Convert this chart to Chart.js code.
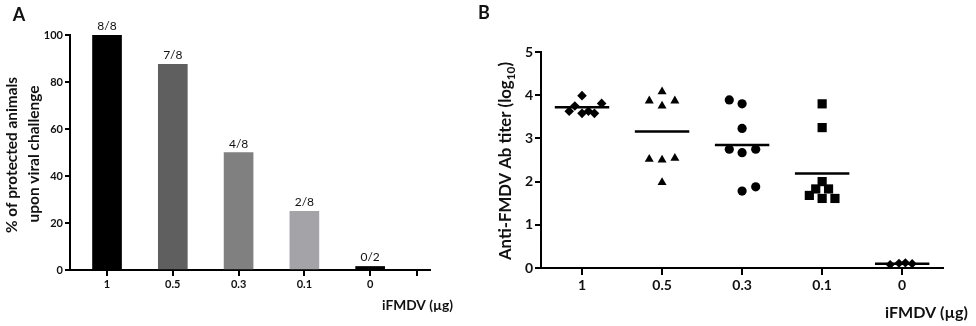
<!DOCTYPE html>
<html>
<head>
<meta charset="utf-8">
<script src="https://cdn.jsdelivr.net/npm/chart.js@4"></script>
<style>
  html,body{margin:0;padding:0;background:#fff;}
  .panel{position:absolute;top:0;height:326px;}
  #wrapA{left:0;width:470px;}
  #wrapB{left:476px;width:500px;}
</style>
</head>
<body>
<div class="panel" id="wrapA"><canvas id="chartA" width="470" height="326"></canvas></div>
<div class="panel" id="wrapB"><canvas id="chartB" width="500" height="326"></canvas></div>
<script>
// ======= Data =======
const doseLabels = ['1', '0.5', '0.3', '0.1', '0'];

// Panel A: % protected animals
const protectedPct = [100, 87.5, 50, 25, 1.5];
const protectedCounts = ['8/8', '7/8', '4/8', '2/8', '0/2'];
const yTicksA = [0, 20, 40, 60, 80, 100];

// Panel B: anti-FMDV Ab titers (log10), one list per dose
const titer1 = [3.63, 3.75, 3.99, 3.58, 3.63, 3.58, 3.81];
const titer05 = [3.87, 4.08, 3.75, 3.87, 2.52, 2.50, 2.54, 1.98];
const titer03 = [3.89, 3.80, 3.23, 2.75, 2.67, 2.75, 1.78, 1.88];
const titer01 = [3.80, 3.25, 2.00, 1.83, 1.83, 1.68, 1.61, 1.61];
const titer0 = [0.08, 0.11, 0.12, 0.10];
const titerMeans = [3.72, 3.16, 2.85, 2.19, 0.10];
const yTicksB = [0, 1, 2, 3, 4, 5];

// horizontal spread of points inside a group (fraction of a category)
const spread1 = [-0.16, -0.09, 0, 0, 0.08, 0.155, 0.245];
const spread05 = [-0.16, 0, 0, 0.16, -0.16, 0, 0.16, 0];
const spread03 = [-0.16, 0, 0, -0.16, 0, 0.17, 0, 0.17];
const spread01 = [0, 0, 0, -0.08, 0.08, -0.16, 0, 0.16];
const spread0 = [-0.15, -0.04, 0.04, 0.125];

const barColors = ['#000000', '#5f5f5f', '#808080', '#a3a3a8', '#000000'];
const FONT = 'Lato, "Liberation Sans", sans-serif';

// ======= Helpers =======
// draw text; if fitW is given the run is squeezed/stretched to that length
function txt(ctx, s, x, y, font, align, rot, fitW) {
  ctx.save();
  ctx.font = font; ctx.fillStyle = '#111';
  ctx.textAlign = align || 'left'; ctx.textBaseline = 'alphabetic';
  ctx.translate(x, y);
  if (rot) ctx.rotate(rot);
  if (fitW) ctx.scale(fitW / ctx.measureText(s).width, 1);
  ctx.fillText(s, 0, 0);
  ctx.restore();
}
function fixTicks(vals) {
  return scale => { scale.ticks = vals.map(v => ({value: v})); };
}
function axisStyle(tickLen, fontSize) {
  return {
    border: {display: true, color: '#000', width: 2},
    grid: {drawOnChartArea: false, drawTicks: true, tickLength: tickLen, color: '#000', lineWidth: 2, offset: false},
    ticks: {color: '#111', font: {family: FONT, size: fontSize, weight: 'bold'}, padding: 2}
  };
}

// ======= Panel A =======
const labelsA = {
  id: 'labelsA',
  afterDraw(chart) {
    const ctx = chart.ctx;
    const meta = chart.getDatasetMeta(0);
    meta.data.forEach((bar, i) => {
      txt(ctx, protectedCounts[i], bar.x, bar.y - 5, '12px ' + FONT, 'center');
    });
    txt(ctx, 'A', 19, 21, 'bold 18px ' + FONT, 'center');
    txt(ctx, '% of protected animals', 17, 155, 'bold 16px ' + FONT, 'center', -Math.PI / 2, 156);
    txt(ctx, 'upon viral challenge', 39, 154, 'bold 16px ' + FONT, 'center', -Math.PI / 2, 137);
    txt(ctx, 'iFMDV (\u00b5g)', 453, 310, 'bold 14px ' + FONT, 'right', 0, 71);
  }
};

const ax = axisStyle(6, 11), ayA = axisStyle(5, 11);
new Chart(document.getElementById('chartA'), {
  type: 'bar',
  data: {
    datasets: [{
      data: protectedPct.map((v, i) => ({x: i, y: v})),
      backgroundColor: barColors,
      barThickness: 29
    }]
  },
  options: {
    responsive: false, animation: false,
    layout: {padding: {left: 0, top: 35, right: 40, bottom: 0}},
    plugins: {legend: {display: false}, tooltip: {enabled: false}},
    scales: {
      x: {
        type: 'linear', min: -0.563, max: 4.91, offset: false,
        border: ax.border, grid: ax.grid,
        ticks: Object.assign({}, ax.ticks, {callback: v => doseLabels[v] ?? ''}),
        afterBuildTicks: fixTicks([0, 1, 2, 3, 4, 4.71]),
        afterFit: s => { s.height = 56; }
      },
      y: {
        min: 0, max: 100,
        border: ayA.border, grid: ayA.grid, ticks: ayA.ticks,
        afterBuildTicks: fixTicks(yTicksA),
        afterFit: s => { s.width = 70; }
      }
    }
  },
  plugins: [labelsA]
});

// ======= Panel B =======
const labelsB = {
  id: 'labelsB',
  afterDraw(chart) {
    const ctx = chart.ctx;
    txt(ctx, 'B', 8, 19, 'bold 18px ' + FONT, 'center');
    // rotated y title with subscript 10, fitted to 198px
    ctx.save();
    ctx.translate(35, 161);
    ctx.rotate(-Math.PI / 2);
    ctx.fillStyle = '#111';
    const big = 'bold 17px ' + FONT, small = 'bold 12px ' + FONT;
    const p1 = 'Anti-FMDV Ab titer (log', p2 = '10', p3 = ')';
    ctx.font = big; const w1 = ctx.measureText(p1).width, w3 = ctx.measureText(p3).width;
    ctx.font = small; const w2 = ctx.measureText(p2).width;
    const tot = w1 + w2 + w3;
    ctx.scale(198 / tot, 1);
    const x0 = -tot / 2;
    ctx.font = big; ctx.fillText(p1, x0, 0);
    ctx.font = small; ctx.fillText(p2, x0 + w1, 4);
    ctx.font = big; ctx.fillText(p3, x0 + w1 + w2, 0);
    ctx.restore();
    txt(ctx, 'iFMDV (\u00b5g)', 492, 318, 'bold 16px ' + FONT, 'right', 0, 83);
  }
};

function group(vals, spread, idx, style, r) {
  return {
    data: vals.map((v, i) => ({x: idx + spread[i], y: v})),
    pointStyle: style, pointRadius: r, pointHoverRadius: r,
    backgroundColor: '#000', borderColor: '#000', borderWidth: 0,
    clip: false
  };
}
function meanLine(idx) {
  return {
    data: [{x: idx - 0.34, y: titerMeans[idx]}, {x: idx + 0.34, y: titerMeans[idx]}],
    showLine: true, borderColor: '#000', borderWidth: 2.5, pointRadius: 0, clip: false
  };
}

const bx = axisStyle(7, 14), by = axisStyle(6, 14);
new Chart(document.getElementById('chartB'), {
  type: 'scatter',
  data: {
    datasets: [
      meanLine(0), meanLine(1), meanLine(2), meanLine(3), meanLine(4),
      group(titer1, spread1, 0, 'rectRot', 4.8),
      group(titer05, spread05, 1, 'triangle', 5.2),
      group(titer03, spread03, 2, 'circle', 4.6),
      group(titer01, spread01, 3, 'rect', 6.5),
      group(titer0, spread0, 4, 'rectRot', 4.6)
    ]
  },
  options: {
    responsive: false, animation: false,
    layout: {padding: {left: 0, top: 52, right: 33, bottom: 0}},
    plugins: {legend: {display: false}, tooltip: {enabled: false}},
    scales: {
      x: {
        type: 'linear', min: -0.5125, max: 4.51,
        border: bx.border, grid: bx.grid,
        ticks: Object.assign({}, bx.ticks, {callback: v => doseLabels[v] ?? ''}),
        afterBuildTicks: fixTicks([0, 1, 2, 3, 4]),
        afterFit: s => { s.height = 58; }
      },
      y: {
        min: 0, max: 5,
        border: by.border, grid: by.grid, ticks: by.ticks,
        afterBuildTicks: fixTicks(yTicksB),
        afterFit: s => { s.width = 65; }
      }
    }
  },
  plugins: [labelsB]
});
</script>
</body>
</html>
